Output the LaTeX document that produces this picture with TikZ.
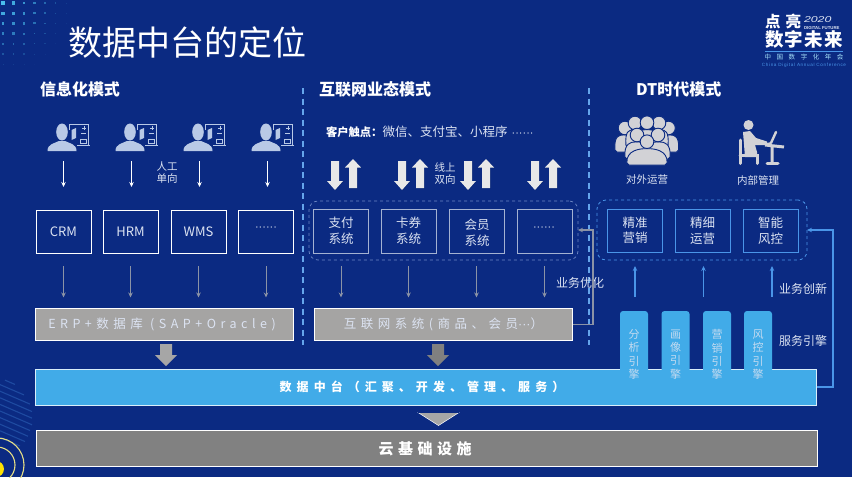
\documentclass[tikz,border=0pt]{standalone}
\usepackage{fontspec}
\setmainfont{Noto Sans CJK SC}
\newfontfamily\lat{Liberation Sans}
\newfontfamily\spaced[LetterSpace=36]{Noto Sans CJK SC}
\newfontfamily\spacednet[LetterSpace=36]{Noto Sans CJK SC}
\newfontfamily\spacedlogo[LetterSpace=6]{Noto Sans CJK SC}
\newfontfamily\spacedband[LetterSpace=42]{Noto Sans CJK SC}
\newfontfamily\spacedb[LetterSpace=30]{Noto Sans CJK SC}
\newfontfamily\spacedc[LetterSpace=85]{Noto Sans CJK SC}
\newfontfamily\spacedd[LetterSpace=14]{Liberation Sans}
\usetikzlibrary{arrows.meta,calc}
\definecolor{bg}{HTML}{0B2A82}
\definecolor{bandblue}{HTML}{41ABE8}
\definecolor{cloudgrey}{HTML}{818181}
\definecolor{sysgrey}{HTML}{A5A4A3}
\definecolor{iconlight}{HTML}{B9C9E6}
\definecolor{dtblue}{HTML}{4A95E8}
\definecolor{midline}{HTML}{A4B2D2}
\definecolor{middash}{HTML}{6C86C4}
\definecolor{greyline}{HTML}{8B93A6}
\definecolor{soft}{HTML}{DCE3F2}
\definecolor{crowd}{HTML}{D2D2D6}
\definecolor{ring}{HTML}{E6DF86}
\newcommand{\fs}[1]{\fontsize{#1}{#1}\selectfont}
\newcommand{\dotsrow}{{\lat\fs{11}······}}
\tikzset{
 x=1pt,y=-1pt,
 every node/.style={inner sep=0pt,outer sep=0pt,align=center},
 appbox/.style={draw=white,line width=.8pt,minimum width=55pt,minimum height=43pt,text=soft,font=\fs{13}},
 midbox/.style={draw=midline,line width=.7pt,minimum width=55pt,minimum height=44pt,text=soft,font=\fontsize{12.5}{16}\selectfont},
 dtbox/.style={draw=dtblue,line width=.8pt,minimum width=55pt,minimum height=43pt,text=soft,font=\fontsize{12.5}{15.5}\selectfont},
 head/.style={text=white,font=\bfseries\fs{16}},
 small/.style={text=soft,font=\fontsize{10.5}{12}\selectfont},
 lab/.style={text=soft,font=\fs{12}},
 tab/.style={fill=bandblue,rounded corners=3pt,minimum width=28pt,minimum height=87pt,anchor=north,text=soft!85!bandblue,font=\fontsize{11}{13.2}\selectfont},
 wide/.style={draw=white,line width=.8pt},
 divider/.style={draw=dtblue!85!white,line width=1.2pt,dash pattern=on 6pt off 4.5pt},
 whitearrow/.style={draw=white,line width=.9pt,-{Stealth[length=5pt,width=4.5pt]},shorten <=8pt,shorten >=23pt},
 greyarrow/.style={draw=greyline,line width=.9pt,-{Stealth[length=5pt,width=4.5pt]},shorten <=13pt,shorten >=11pt},
 uparrow/.style={draw=dtblue,line width=1.2pt,-{Stealth[length=5pt,width=4.5pt]}},
 userpic/.pic={
  \fill[iconlight] (0,0) ellipse (5.8pt and 8.5pt);
  \fill[iconlight] (-14.5,19) .. controls (-14.5,12) and (-8,11.5) .. (-3,9) -- (3,9) .. controls (8,11.5) and (14.5,12) .. (14.5,19) -- cycle;
  \draw[iconlight,line width=.6pt] (7,-2) -- (7,-8) -- (26,-8) -- (26,13) -- (15,13) (15,13.5) -- (28,13.5);
  \fill[iconlight] (9.5,-2) -- (14,-4) -- (14,6) -- (9.5,8) -- cycle;
  \draw[iconlight,line width=.5pt] (19,1) -- (24,1) (22,-6) -- (22,-2) (20,-4) -- (24,-4);
  \draw[iconlight,line width=.5pt] (18,11) -- (18,7) -- (24,7) -- (24,11) -- cycle;
 },
 pics/crowdman/.style 2 args={code={
  \fill[crowd,draw=bg,line width=.9pt,rounded corners=2pt] (-#1,#2) .. controls ({-#1-1},8) and (-6,7) .. (0,7) .. controls (6,7) and ({#1+1},8) .. (#1,#2) -- cycle;
  \fill[crowd,draw=bg,line width=.9pt] (0,0) circle (6.8pt);
 }},
}
\begin{document}
\begin{tikzpicture}
\useasboundingbox (0,0) rectangle (852,477);
\fill[bg] (0,0) rectangle (852,477);

% top-left dot field
\foreach \i in {0,...,6}{\foreach \j in {0,...,7}{
  \pgfmathsetmacro{\dd}{veclen(\i*10.5+3,\j*10.2+3)}
  \pgfmathsetmacro{\rr}{max(0,2*(1-\dd/85))}
  \pgfmathsetmacro{\op}{max(0,1-\dd/75)}
  \ifdim\rr pt>0.12pt
   \fill[cyan!70!white,opacity=\op] ({\i*10.5+3-\rr},{\j*10.2+3-\rr}) rectangle ({\i*10.5+3+\rr},{\j*10.2+3+\rr});
  \fi
}}
% bottom-left stripes and rings
\foreach \k/\a/\e in {0/5/15,1/0/24,2/0/30,3/0/32,4/0/32,5/0/32,6/0/30,7/0/28,8/0/25,9/0/20}{
  \draw[dtblue,opacity=.3,line width=1.1pt] (\a,{378+\k*6.6+.43*\a}) -- (\e,{378+\k*6.6+.43*\e});
}
\fill[yellow!85!orange] (-4,469) circle (8pt);
\draw[ring,line width=1.1pt] (-3,465) circle (18pt);
\draw[ring,line width=1.1pt] (-3,465) circle (27pt);

% title and logo
\node[anchor=west,text=white,font=\fs{34}] (title) at (68,43) {数据中台的定位};
\node[anchor=west,text=white,font=\bfseries\fs{15.5}] (logoa) at (765,21.5) {\spacedlogo 点\,\,亮};
\node[anchor=west,text=soft] (logob) at (804,20) {\scalebox{1.45}[1]{\lat\itshape\fs{8.5}2020}};
\node[anchor=west,text=soft] (logoc) at (804,28) {\lat\bfseries\fs{4.3}DIGITAL FUTURE};
\node[text=white,font=\bfseries\fs{18.5}] (logod) at (804,39.5) {\spacedlogo 数字未来};
\coordinate (logol) at (765,51);
\coordinate (logor) at (843,51);
\draw[dtblue,line width=.5pt] (logol) -- (logor);
\node[text=cyan!35!white,font=\fs{6.5}] (logoe) at (804,57) {\spacedc 中国数字化年会};
\node[text=dtblue] (logof) at (804,65) {\spacedd\fs{4.6}China Digital Annual Conference};

% headings
\node[head,anchor=west] (h1) at (40,89) {信息化模式};
\node[head,anchor=west] (h2) at (319,89) {互联网业态模式};
\node[head,anchor=west] (h3) at (636,89) {DT时代模式};

% dividers
\coordinate (d1t) at (303,88); \coordinate (d1b) at (303,345);
\coordinate (d2t) at (589,88); \coordinate (d2b) at (589,345);
\draw[divider] (d1t) -- (d1b);
\draw[divider] (d2t) -- (d2b);

% users
\foreach \n/\x in {1/62,2/130,3/198,4/266}{
  \path (\x,132) pic {userpic};
  \coordinate (u\n) at (\x+1.5,153);
}
% left boxes
\node[appbox] (crm) at (63.5,231.5) {CRM};
\node[appbox] (hrm) at (130.5,231.5) {HRM};
\node[appbox] (wms) at (198.5,231.5) {WMS};
\node[appbox] (ldots) at (266,231.5) {};
\node[text=soft] (ldotst) at (266,229) {\dotsrow};
\node[small] (rengong) at (167,172.5) {人工\\单向};
\foreach \a/\b in {u1/crm,u2/hrm,u3/wms,u4/ldots}{\draw[whitearrow] (\a) -- (\a |- \b.north);}

\node[wide,fill=sysgrey,minimum width=258pt,minimum height=32pt,text=soft,font=\fs{12.5}] (erp) at (164,324.5) {\spaced ERP+数据库 (SAP+Oracle)\kern 4pt};
\node[wide,fill=sysgrey,minimum width=258pt,minimum height=32pt,text=soft,font=\fs{12.5}] (net) at (443.5,324.5) {\spacednet 互联网系统(商品、会员{\lat ···}）};
\foreach \b in {crm,hrm,wms,ldots}{\draw[greyarrow] (\b.south) -- (\b.south |- erp.north);}

% middle column
\node[anchor=west,text=soft,font=\fs{12.5}] (touch) at (326,132) {{\bfseries\color{white}\fs{11.3}客户触点：}微信、支付宝、小程序\,\,\dotsrow};
\foreach \x/\n in {335/a,402/b,468/c,535/d}{
  \fill[black!25!bg,opacity=.4] (\x-3.4,161.5) -- (\x+4.6,161.5) -- (\x+4.6,181.5) -- (\x+8.6,181.5) -- (\x+.6,190.5) -- (\x-7.4,181.5) -- (\x-3.4,181.5) -- cycle;
  \fill[black!9] (\x-4,161) -- (\x+4,161) -- (\x+4,181) -- (\x+8,181) -- (\x,190) -- (\x-8,181) -- (\x-4,181) -- cycle;
  \fill[black!25!bg,opacity=.4] (\x+14.6,188.5) -- (\x+22.6,188.5) -- (\x+22.6,168) -- (\x+26.6,168) -- (\x+18.6,159.5) -- (\x+10.6,168) -- (\x+14.6,168) -- cycle;
  \fill[black!9] (\x+14,188) -- (\x+22,188) -- (\x+22,167.5) -- (\x+26,167.5) -- (\x+18,159) -- (\x+10,167.5) -- (\x+14,167.5) -- cycle;
}
\node[small] (xianshang) at (445,174) {线上\\双向};
\node[draw=middash,dashed,line width=.7pt,rounded corners=9pt,minimum width=269pt,minimum height=59pt] (midgroup) at (443.5,230.5) {};
\node[midbox] (pay) at (341,231) {支付\\系统};
\node[midbox] (card) at (408.5,231) {卡券\\系统};
\node[midbox] (mem) at (476.5,231) {};
\node[text=soft,font=\fontsize{12.5}{16}\selectfont] (memt) at (477,233) {会员\\系统};
\node[midbox] (mdots) at (544.5,231) {};
\node[text=soft] (mdotst) at (544,229) {\dotsrow};
\foreach \b in {pay,card,mem,mdots}{\draw[greyarrow] (\b.south) -- (\b.south |- net.north);}
\node[lab] (youhua) at (580,283) {业务优化};
\draw[draw=greyline,line width=1.1pt,-{Stealth[length=5pt,width=4.5pt]}] (net.east) -- (593,324.5) |- (midgroup.east |- 0,230);

% right column
\path (625,128) pic {crowdman={10}{24}};
\path (668.5,128) pic {crowdman={10}{24}};
\path (635,123) pic {crowdman={9}{24}};
\path (659,123) pic {crowdman={9}{24}};
\path (647,122.7) pic {crowdman={9}{24}};
\path (637,135) pic {crowdman={12}{24}};
\path (658,135) pic {crowdman={12}{24}};
\path (647,141.7) pic {crowdman={20}{23.3}};
\node[small] (duiwai) at (647,180) {对外运营};
\node[small] (neibu) at (758,180) {内部管理};
% desk person
\fill[crowd] (748.5,125) circle (5pt);
\fill[crowd] (743,132) -- (750,131) -- (756,138) -- (767,141.5) -- (767,145) -- (755,145) -- (757,152) -- (757,157) -- (745,157) -- cycle;
\draw[crowd,line width=3pt,line cap=round] (740,140) -- (740,163.5) (740,155) -- (757,155) -- (757,163.5);
\draw[crowd,line width=3pt] (765,145) -- (784,147) (772,146) -- (772,162);
\draw[crowd,line width=3pt,line cap=round] (767,163.5) -- (778,163.5);
\draw[crowd,line width=2.4pt,line cap=round] (771,143) -- (776,132);
\draw[crowd,line width=1.6pt] (765,144) -- (771,143);

\node[draw=dtblue,dashed,line width=.8pt,rounded corners=9pt,minimum width=210pt,minimum height=60pt] (dtgroup) at (702,230) {};
\node[dtbox] (jz) at (635,230.5) {精准\\营销};
\node[dtbox] (jx) at (702.5,230.5) {精细\\运营};
\node[dtbox] (zn) at (770.5,230.5) {智能\\风控};

% bands and engines
\node[wide,fill=bandblue,minimum width=781pt,minimum height=36pt,draw=white!80!bandblue] (dp) at (426,387) {};
\node[tab] (e1) at (634,311) {分\\析\\引\\擎};
\node[tab] (e2) at (675.5,311) {画\\像\\引\\擎};
\node[tab] (e3) at (717,311) {营\\销\\引\\擎};
\node[tab] (e4) at (758,311) {风\\控\\引\\擎};
\node[text=white,font=\bfseries\fs{12}] (dpt) at (422,386.5) {\spacedband 数据中台（汇聚、开发、管理、服务）};
\node[wide,fill=cloudgrey,minimum width=781pt,minimum height=36pt] (cloud) at (426.5,448) {};
\node[text=white,font=\bfseries\fs{15}] (cloudt) at (425,448.5) {\spacedb 云基础设施};

\coordinate (ua) at (635,297); \coordinate (ub) at (703.5,297); \coordinate (uc) at (772,297);
\draw[uparrow] (ua) -- ($(jz.south)+(0,14)$);
\draw[uparrow] (ub) -- ($(jx.south)+(1,14)$);
\draw[uparrow] (uc) -- ($(zn.south)+(1.5,14)$);
\node[lab] (chuangxin) at (803,289) {业务创新};
\node[lab] (yinqing) at (803,341) {服务引擎};
\draw[draw=dtblue,line width=1.1pt,-{Stealth[length=5pt,width=4.5pt]}] (dp.east) -- (833,387) |- (dtgroup.east |- 0,230);

% block arrows to bands
\coordinate (a1) at (166,344);
\coordinate (a2) at (438,344);
\fill[black!35] (a1) ++(-6,0) -- ++(12,0) -- ++(0,11) -- ++(5,0) -- ++(-11,11) -- ++(-11,-11) -- ++(5,0) -- cycle;
\fill[black!50] (a2) ++(-6,0) -- ++(12,0) -- ++(0,11) -- ++(5,0) -- ++(-11,11) -- ++(-11,-11) -- ++(5,0) -- cycle;
\fill[black!35,draw=white,line width=.5pt] (418,412.5) -- (459,412.5) -- (438.5,425.5) -- cycle;
\draw[bg,line width=1pt] (418,412.2) -- (459,412.2);
\end{tikzpicture}
\end{document}
